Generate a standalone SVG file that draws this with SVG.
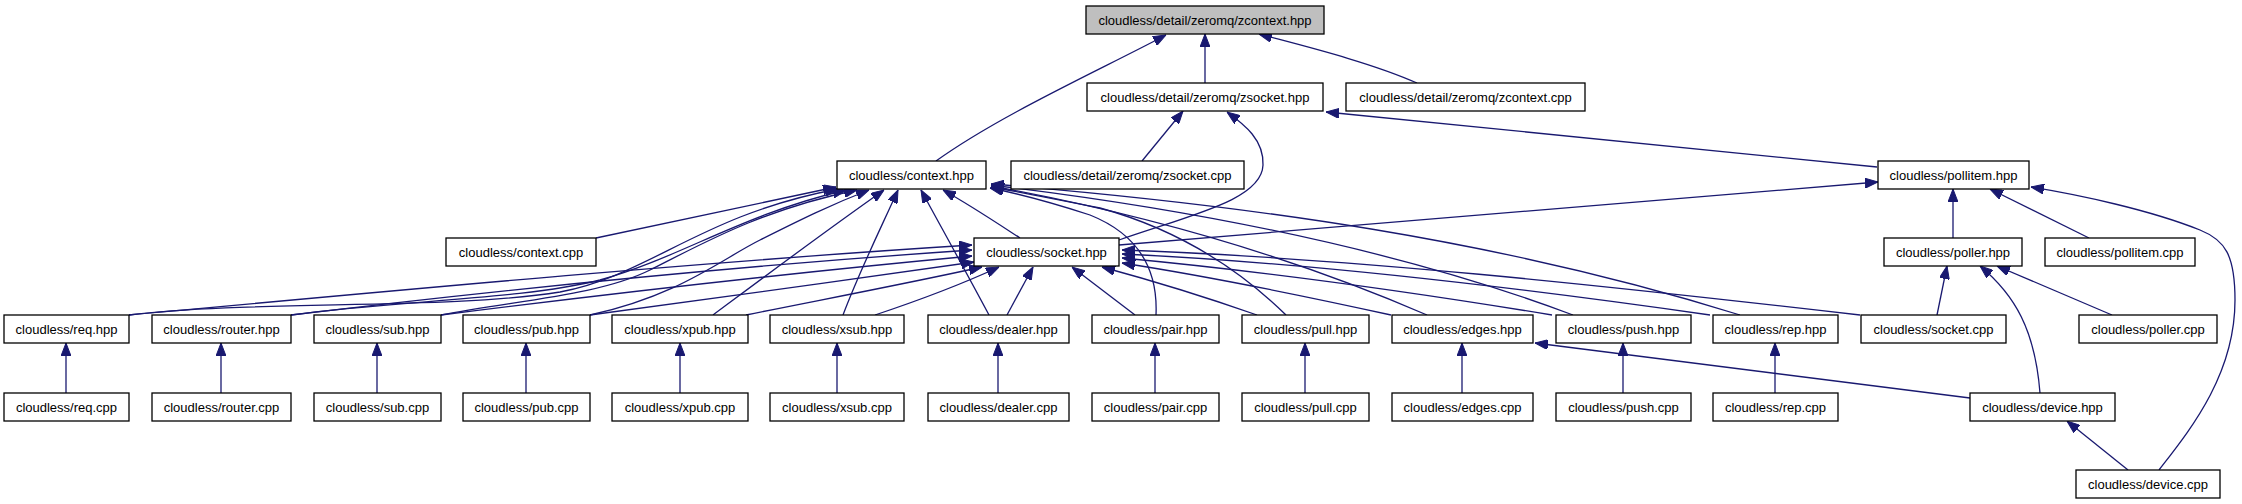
<svg xmlns="http://www.w3.org/2000/svg" width="2242" height="504" viewBox="0 0 2242 504">
<style>
.n rect{fill:#ffffff;stroke:#000000;stroke-width:1.3}
.n text{font-family:"Liberation Sans",Arial,sans-serif;font-size:13px;fill:#000000;text-anchor:middle}
#zcontext_hpp rect{fill:#bfbfbf}
.e path{fill:none;stroke:#191970;stroke-width:1.3;marker-end:url(#ah)}
</style>
<defs>
<marker id="ah" viewBox="0 0 13 10" refX="13" refY="5" markerWidth="13" markerHeight="10" markerUnits="userSpaceOnUse" orient="auto">
<path d="M0,0 L13,5 L0,10 z" fill="#191970" stroke="#191970" stroke-width="1"/>
</marker>
</defs>
<rect width="2242" height="504" fill="#ffffff"/>
<g id="edges" class="e">
<path d="M1205,83 L1205,34"/>
<path d="M936,161 C1000,115 1100,70 1166,35"/>
<path d="M1417,83 C1370,62 1300,45 1259,34"/>
<path d="M1142,161 L1183,111"/>
<path d="M1119,240 C1190,215 1262,200 1263,165 C1264,140 1245,125 1227,112"/>
<path d="M1877,167 L1326,112"/>
<path d="M1119,245 L1878,182"/>
<path d="M1953,238 L1953,189"/>
<path d="M2089,238 L1990,189"/>
<path d="M2159,470 C2190,430 2235,375 2235,300 C2235,255 2225,240 2200,230 C2150,210 2080,195 2031,187"/>
<path d="M596,238 L836,187"/>
<path d="M129,315 C250,300 450,310 560,292 C650,275 700,215 838,189"/>
<path d="M291,315 C400,300 520,300 600,280 C680,258 740,215 846,190"/>
<path d="M441,315 C520,300 600,295 650,270 C700,245 760,210 857,190"/>
<path d="M590,315 C680,295 720,260 760,240 C800,220 830,205 869,190"/>
<path d="M713,315 C760,280 820,235 884,190"/>
<path d="M843,315 C860,270 880,230 898,190"/>
<path d="M989,315 C965,270 940,225 921,190"/>
<path d="M1020,238 C1000,225 970,205 943,190"/>
<path d="M1156,315 C1158,270 1140,235 1090,215 C1050,202 1020,194 990,188"/>
<path d="M1286,315 C1240,270 1180,230 1100,208 C1050,198 1020,192 991,187"/>
<path d="M1427,315 C1300,260 1150,215 991,186"/>
<path d="M1573,315 C1400,250 1200,210 991,185"/>
<path d="M1740,315 C1500,240 1250,205 991,184"/>
<path d="M129,315 C400,290 700,262 972,245"/>
<path d="M291,315 C500,290 750,265 972,250"/>
<path d="M441,315 C600,295 800,272 972,256"/>
<path d="M590,315 C700,300 850,280 974,262"/>
<path d="M746,315 C820,300 900,285 982,267"/>
<path d="M875,315 C920,300 960,285 999,267"/>
<path d="M1007,315 L1033,267"/>
<path d="M1135,315 L1072,267"/>
<path d="M1257,315 C1200,295 1150,280 1102,267"/>
<path d="M1391,315 C1300,295 1200,275 1122,263"/>
<path d="M1552,315 C1400,290 1250,270 1122,258"/>
<path d="M1710,315 C1500,285 1300,262 1122,254"/>
<path d="M1860,315 C1600,285 1350,258 1122,250"/>
<path d="M66,393 L66,343"/>
<path d="M221,393 L221,343"/>
<path d="M377,393 L377,343"/>
<path d="M526,393 L526,343"/>
<path d="M680,393 L680,343"/>
<path d="M837,393 L837,343"/>
<path d="M998,393 L998,343"/>
<path d="M1155,393 L1155,343"/>
<path d="M1305,393 L1305,343"/>
<path d="M1462,393 L1462,343"/>
<path d="M1623,393 L1623,343"/>
<path d="M1775,393 L1775,343"/>
<path d="M1937,315 L1947,266"/>
<path d="M2040,393 C2035,330 2015,295 1980,266"/>
<path d="M2112,315 L1997,266"/>
<path d="M2128,470 L2067,421"/>
<path d="M1970,398 L1535,343"/>
</g>
<g id="zcontext_hpp" class="n"><rect x="1086" y="6" width="238" height="28"/><text x="1205" y="24.5">cloudless/detail/zeromq/zcontext.hpp</text></g>
<g id="zsocket_hpp" class="n"><rect x="1087" y="83" width="236" height="28"/><text x="1205" y="101.5">cloudless/detail/zeromq/zsocket.hpp</text></g>
<g id="zcontext_cpp" class="n"><rect x="1346" y="83" width="239" height="28"/><text x="1465.5" y="101.5">cloudless/detail/zeromq/zcontext.cpp</text></g>
<g id="context_hpp" class="n"><rect x="837" y="161" width="149" height="28"/><text x="911.5" y="179.5">cloudless/context.hpp</text></g>
<g id="zsocket_cpp" class="n"><rect x="1011" y="161" width="233" height="28"/><text x="1127.5" y="179.5">cloudless/detail/zeromq/zsocket.cpp</text></g>
<g id="pollitem_hpp" class="n"><rect x="1878" y="161" width="151" height="28"/><text x="1953.5" y="179.5">cloudless/pollitem.hpp</text></g>
<g id="context_cpp" class="n"><rect x="446" y="238" width="150" height="28"/><text x="521" y="256.5">cloudless/context.cpp</text></g>
<g id="socket_hpp" class="n"><rect x="974" y="238" width="145" height="28"/><text x="1046.5" y="256.5">cloudless/socket.hpp</text></g>
<g id="poller_hpp" class="n"><rect x="1884" y="238" width="138" height="28"/><text x="1953" y="256.5">cloudless/poller.hpp</text></g>
<g id="pollitem_cpp" class="n"><rect x="2045" y="238" width="150" height="28"/><text x="2120" y="256.5">cloudless/pollitem.cpp</text></g>
<g id="req_hpp" class="n"><rect x="4" y="315" width="125" height="28"/><text x="66.5" y="333.5">cloudless/req.hpp</text></g>
<g id="router_hpp" class="n"><rect x="152" y="315" width="139" height="28"/><text x="221.5" y="333.5">cloudless/router.hpp</text></g>
<g id="sub_hpp" class="n"><rect x="314" y="315" width="127" height="28"/><text x="377.5" y="333.5">cloudless/sub.hpp</text></g>
<g id="pub_hpp" class="n"><rect x="463" y="315" width="127" height="28"/><text x="526.5" y="333.5">cloudless/pub.hpp</text></g>
<g id="xpub_hpp" class="n"><rect x="612" y="315" width="136" height="28"/><text x="680" y="333.5">cloudless/xpub.hpp</text></g>
<g id="xsub_hpp" class="n"><rect x="770" y="315" width="134" height="28"/><text x="837" y="333.5">cloudless/xsub.hpp</text></g>
<g id="dealer_hpp" class="n"><rect x="928" y="315" width="141" height="28"/><text x="998.5" y="333.5">cloudless/dealer.hpp</text></g>
<g id="pair_hpp" class="n"><rect x="1092" y="315" width="127" height="28"/><text x="1155.5" y="333.5">cloudless/pair.hpp</text></g>
<g id="pull_hpp" class="n"><rect x="1242" y="315" width="127" height="28"/><text x="1305.5" y="333.5">cloudless/pull.hpp</text></g>
<g id="edges_hpp" class="n"><rect x="1392" y="315" width="141" height="28"/><text x="1462.5" y="333.5">cloudless/edges.hpp</text></g>
<g id="push_hpp" class="n"><rect x="1556" y="315" width="135" height="28"/><text x="1623.5" y="333.5">cloudless/push.hpp</text></g>
<g id="rep_hpp" class="n"><rect x="1713" y="315" width="125" height="28"/><text x="1775.5" y="333.5">cloudless/rep.hpp</text></g>
<g id="socket_cpp" class="n"><rect x="1861" y="315" width="145" height="28"/><text x="1933.5" y="333.5">cloudless/socket.cpp</text></g>
<g id="poller_cpp" class="n"><rect x="2079" y="315" width="138" height="28"/><text x="2148" y="333.5">cloudless/poller.cpp</text></g>
<g id="req_cpp" class="n"><rect x="4" y="393" width="125" height="28"/><text x="66.5" y="411.5">cloudless/req.cpp</text></g>
<g id="router_cpp" class="n"><rect x="152" y="393" width="139" height="28"/><text x="221.5" y="411.5">cloudless/router.cpp</text></g>
<g id="sub_cpp" class="n"><rect x="314" y="393" width="127" height="28"/><text x="377.5" y="411.5">cloudless/sub.cpp</text></g>
<g id="pub_cpp" class="n"><rect x="463" y="393" width="127" height="28"/><text x="526.5" y="411.5">cloudless/pub.cpp</text></g>
<g id="xpub_cpp" class="n"><rect x="612" y="393" width="136" height="28"/><text x="680" y="411.5">cloudless/xpub.cpp</text></g>
<g id="xsub_cpp" class="n"><rect x="770" y="393" width="134" height="28"/><text x="837" y="411.5">cloudless/xsub.cpp</text></g>
<g id="dealer_cpp" class="n"><rect x="928" y="393" width="141" height="28"/><text x="998.5" y="411.5">cloudless/dealer.cpp</text></g>
<g id="pair_cpp" class="n"><rect x="1092" y="393" width="127" height="28"/><text x="1155.5" y="411.5">cloudless/pair.cpp</text></g>
<g id="pull_cpp" class="n"><rect x="1242" y="393" width="127" height="28"/><text x="1305.5" y="411.5">cloudless/pull.cpp</text></g>
<g id="edges_cpp" class="n"><rect x="1392" y="393" width="141" height="28"/><text x="1462.5" y="411.5">cloudless/edges.cpp</text></g>
<g id="push_cpp" class="n"><rect x="1556" y="393" width="135" height="28"/><text x="1623.5" y="411.5">cloudless/push.cpp</text></g>
<g id="rep_cpp" class="n"><rect x="1713" y="393" width="125" height="28"/><text x="1775.5" y="411.5">cloudless/rep.cpp</text></g>
<g id="device_hpp" class="n"><rect x="1970" y="393" width="145" height="28"/><text x="2042.5" y="411.5">cloudless/device.hpp</text></g>
<g id="device_cpp" class="n"><rect x="2076" y="470" width="144" height="28"/><text x="2148" y="488.5">cloudless/device.cpp</text></g>
</svg>
